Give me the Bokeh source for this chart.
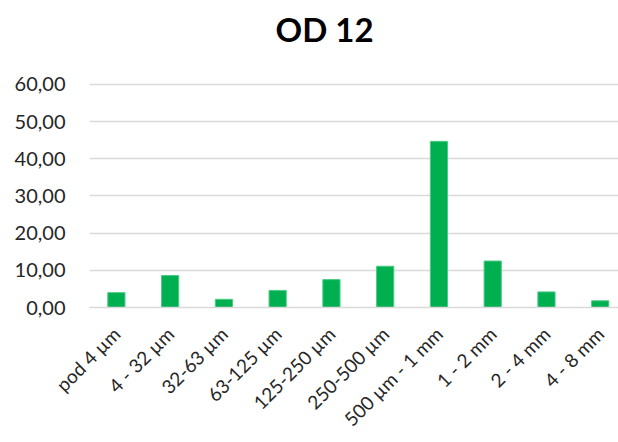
import math
from bokeh.plotting import figure
from bokeh.models import Range1d, FixedTicker, Label
from bokeh.embed import file_html
from bokeh.resources import INLINE

title_text = "OD 12"
categories = ["pod 4 µm", "4 - 32 µm", "32-63 µm", "63-125 µm", "125-250 µm",
              "250-500 µm", "500 µm - 1 mm", "1 - 2 mm", "2 - 4 mm", "4 - 8 mm"]
values = [4.0, 8.6, 2.2, 4.6, 7.5, 11.1, 44.7, 12.5, 4.2, 1.8]
y_ticks = [0, 10, 20, 30, 40, 50, 60]
y_tick_labels = ["0,00", "10,00", "20,00", "30,00", "40,00", "50,00", "60,00"]

xs = list(range(len(categories)))

# pixel layout of the chart (page coordinates)
W, H = 618, 442
frame_left, frame_bottom = 89, 307
px_per_y = 3.7167            # pixels per y unit (60 at 84px, 0 at 307px)
x_start, x_end = -0.5, 9.34
y_top = frame_bottom / px_per_y  # frame extends to the top of the page; title sits inside it
px_per_x = (W - frame_left) / (x_end - x_start)
title_center_px, title_middle_px = 324, 28.5

p = figure(width=W, height=H, output_backend="svg", toolbar_location=None,
           x_range=Range1d(x_start, x_end), y_range=Range1d(0, y_top),
           min_border_left=frame_left, min_border_right=0, min_border_top=0,
           min_border_bottom=H - frame_bottom, title=None)

p.vbar(x=xs, top=values, width=0.32, fill_color="#00B050",
       line_color="#4CCB84", line_width=1)

title = Label(x=x_start + (title_center_px - frame_left) / px_per_x,
              y=(frame_bottom - title_middle_px) / px_per_y,
              text=title_text, text_align="center", text_baseline="middle",
              text_font="Lato", text_font_size="33px", text_font_style="bold",
              text_color="#000000")
p.add_layout(title)

p.outline_line_color = None
p.background_fill_color = "white"
p.border_fill_color = "white"

p.xgrid.visible = False
p.ygrid.grid_line_color = "#D9D9D9"
p.ygrid.grid_line_width = 1.5

p.yaxis.ticker = FixedTicker(ticks=y_ticks)
p.yaxis.major_label_overrides = {t: l for t, l in zip(y_ticks, y_tick_labels)}
p.yaxis.axis_line_color = None
p.yaxis.major_tick_line_color = None
p.yaxis.minor_tick_line_color = None
p.yaxis.major_label_standoff = 18
p.yaxis.major_label_text_font = "Lato"
p.yaxis.major_label_text_font_size = "20px"
p.yaxis.major_label_text_color = "#262626"

p.xaxis.ticker = FixedTicker(ticks=xs)
p.xaxis.major_label_overrides = {x: c for x, c in zip(xs, categories)}
p.xaxis.axis_line_color = "#D9D9D9"
p.xaxis.axis_line_width = 1.5
p.xaxis.major_tick_line_color = None
p.xaxis.minor_tick_line_color = None
p.xaxis.major_label_orientation = math.pi / 4
p.xaxis.major_label_standoff = 17
p.xaxis.major_label_text_font = "Lato"
p.xaxis.major_label_text_font_size = "19px"
p.xaxis.major_label_text_color = "#262626"

open("out.html", "w").write(file_html(p, INLINE))
